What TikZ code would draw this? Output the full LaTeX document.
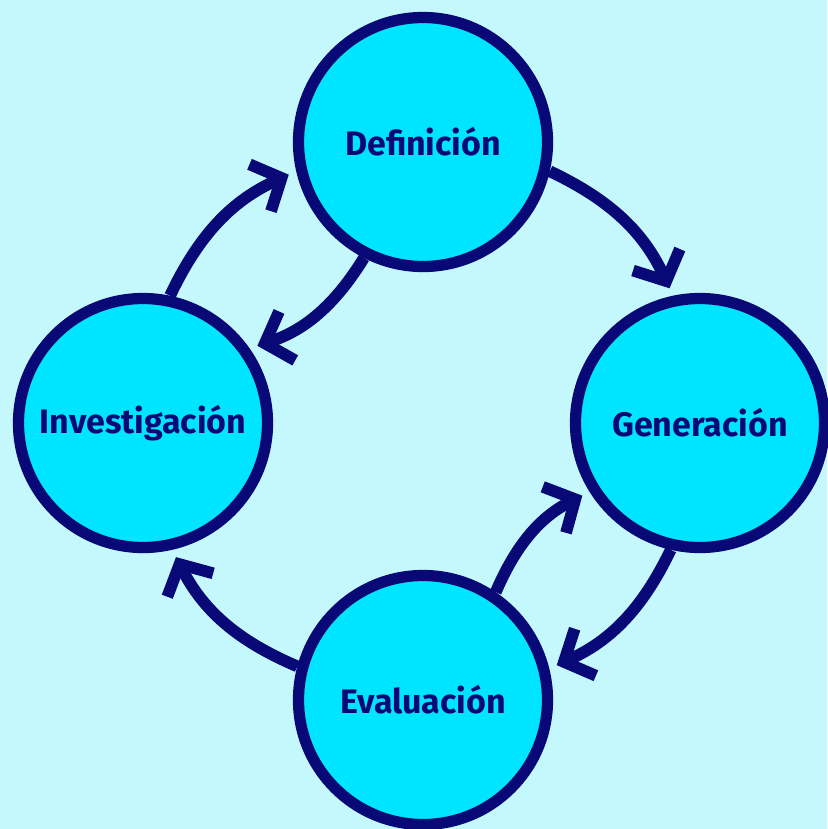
\documentclass[tikz,border=0pt]{standalone}
\usepackage{fontspec}
\setmainfont{Fira Sans}
\usetikzlibrary{arrows.meta}
\definecolor{fondo}{RGB}{197,248,252}
\definecolor{celeste}{RGB}{0,229,255}
\definecolor{marino}{RGB}{8,8,118}
\begin{document}
\begin{tikzpicture}[x=0.03cm, y=-0.03cm, line join=miter, >={Straight Barb[length=20pt,width=44pt]},
	etapa/.style={circle, draw=marino, fill=celeste, line width=9.6pt, minimum size=7.47cm, inner sep=0pt, text=marino, font=\fontsize{29}{30}\selectfont\bfseries},
	flecha/.style={->, draw=marino, line width=10pt, bend left=20, shorten >=7pt}]
	\fill[fondo] (0,0) rectangle (827,829);
	\useasboundingbox (0,0) rectangle (827,829);
	\node[etapa] (def) at (423,142) {Definición};
	\node[etapa] (gen) at (700,423) {Generación};
	\node[etapa] (inv) at (143,423) {Investigación};
	\node[etapa] (eva) at (423,700) {Evaluación};
	\draw[flecha] (inv.78) to (def.193);
	\draw[flecha] (def.243) to (inv.35);
	\draw[flecha] (def.-13) to (gen.102);
	\draw[flecha] (gen.257) to (eva.14);
	\draw[flecha] (eva.56) to (gen.212);
	\draw[flecha] (eva.165) to (inv.283);
\end{tikzpicture}
\end{document}
